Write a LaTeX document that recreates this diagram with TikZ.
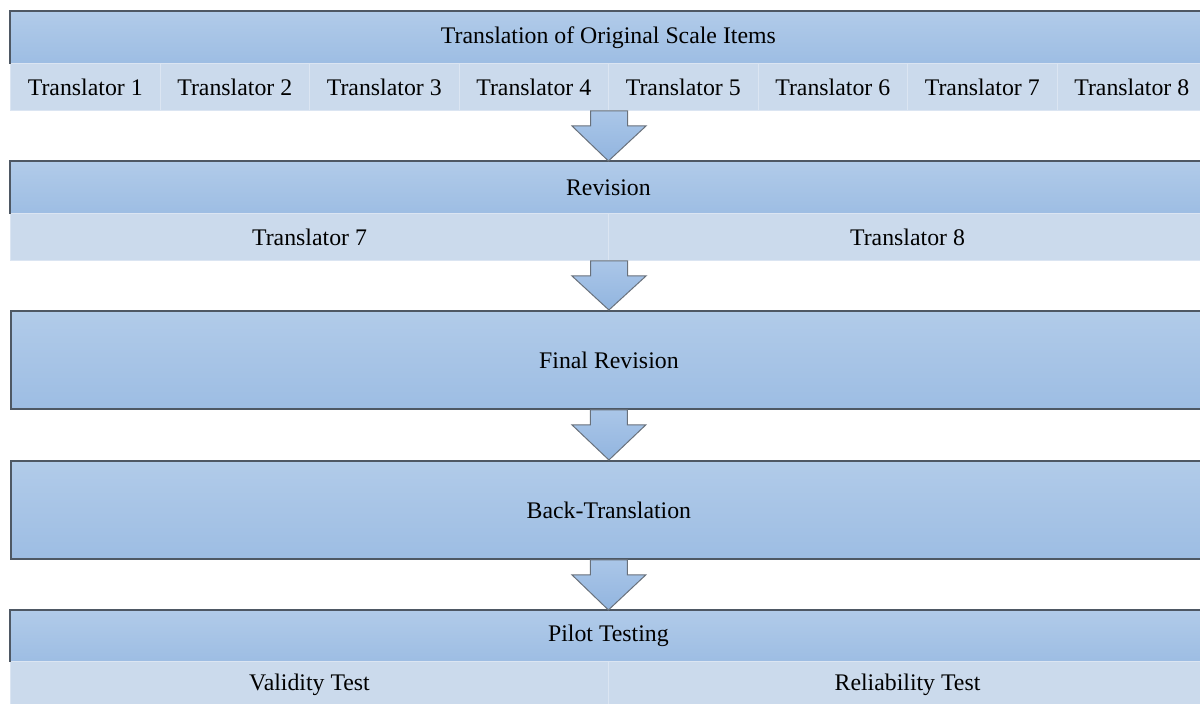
\documentclass[tikz,border=0pt]{standalone}
\usepackage{fontspec}
\setmainfont{Liberation Serif}
\usetikzlibrary{positioning,calc}

\definecolor{hdrtop}{HTML}{B1CBE9}
\definecolor{hdrbot}{HTML}{9DBDE3}
\definecolor{subfill}{HTML}{CBDAEC}
\definecolor{frameline}{HTML}{4E5864}
\definecolor{arrowtop}{HTML}{AAC6E8}
\definecolor{arrowbot}{HTML}{92B5DF}

\tikzset{
  header/.style={anchor=north west, inner sep=0pt, minimum width=598pt,
    top color=hdrtop, bottom color=hdrbot},
  cell/.style={anchor=north west, inner sep=0pt, minimum height=23.5pt,
    fill=subfill, draw=white!30!subfill, line width=0.5pt},
  frame/.style={draw=frameline, line width=0.9pt},
  downarrow/.style={top color=arrowtop, bottom color=arrowbot,
    draw=frameline!85, line width=0.5pt, line join=miter}
}

% block arrow from the bottom of one stage to the top of the next
\newcommand{\stagearrow}[2]{%
  \draw[downarrow] ($(#1)+(-18.5,0)$) -- ++(0,15) -- ++(-18.5,0) -- (#2)
    -- ($(#1)+(37,15)$) -- ++(-18.5,0) -- ++(0,-15) -- cycle;}

\begin{document}
\begin{tikzpicture}[x=0.5pt, y=-0.5pt, font=\fontsize{11.9}{14}\selectfont]
\useasboundingbox (0,0) rectangle (1200,704);

% Stage 1: translation
\node[header, minimum height=26pt] (trans) at (10,11) {Translation of Original Scale Items};
\foreach \i in {1,...,8} {
    \node[cell, minimum width=74.75pt] (t\i) at ({10+(\i-1)*149.5},63) {Translator \i};
}
\draw[frame] (trans.south west) -- (trans.north west) -- (trans.north east);

% Stage 2: revision
\node[header, minimum height=26pt] (rev) at (10,161) {Revision};
\node[cell, minimum width=299pt] (rev7) at (10,213) {Translator 7};
\node[cell, minimum width=299pt] (rev8) at (608,213) {Translator 8};
\draw[frame] (rev.south west) -- (rev.north west) -- (rev.north east);

% Stage 3 and 4: single boxes
\node[header, frame, minimum height=49pt] (final) at (10,310) {Final Revision};
\node[header, frame, minimum height=49pt] (back) at (10,460) {Back-Translation};

% Stage 5: pilot testing
\node[header, minimum height=25.5pt] (pilot) at (10,610) {Pilot Testing};
\node[cell, minimum width=299pt] (valid) at (10,661) {Validity Test};
\node[cell, minimum width=299pt] (reliab) at (608,661) {Reliability Test};
\draw[frame] (pilot.south west) -- (pilot.north west) -- (pilot.north east);

% Arrows between the stages
\stagearrow{t4.south east}{rev.north}
\stagearrow{rev7.south east}{final.north}
\stagearrow{final.south}{back.north}
\stagearrow{back.south}{pilot.north}
\end{tikzpicture}
\end{document}
